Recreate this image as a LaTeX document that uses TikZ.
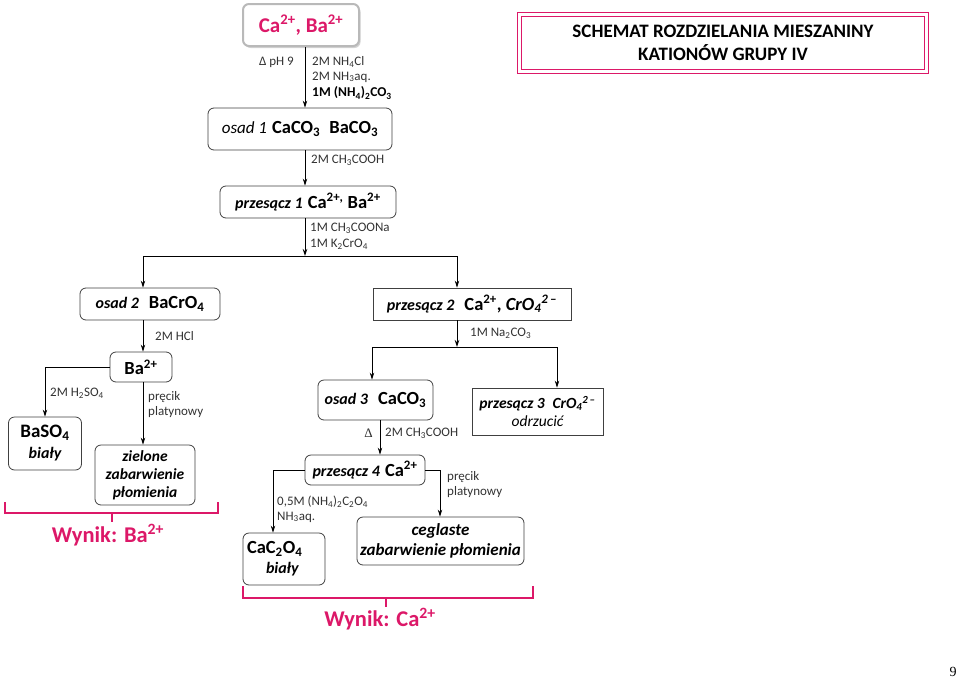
\documentclass[tikz,border=0pt]{standalone}
\usepackage{fontspec}
\setmainfont{Carlito}
\newfontfamily\serifnum{Liberation Serif}
\usetikzlibrary{arrows.meta,shadows}
\definecolor{wpink}{RGB}{220,24,104}
\definecolor{lblgray}{RGB}{50,50,50}
\tikzset{
 rbox/.style={draw=black!75, rounded corners=6pt, line width=0.8pt, fill=white, inner sep=2pt, align=center},
 sbox/.style={draw=black!75, line width=0.8pt, fill=white, inner sep=2pt, align=center},
 lbl/.style={font=\fontsize{13}{15}\selectfont, text=lblgray, anchor=west, inner sep=0pt},
 arr/.style={-{Stealth[length=7pt,width=4.5pt]}, line width=0.9pt},
 conn/.style={line width=0.9pt},
 brace/.style={draw=wpink, line width=2.4pt},
 itb/.style={font=\fontsize{15.5}{18}\selectfont\bfseries\itshape},
 wyn/.style={text=wpink, font=\fontsize{22.5}{26}\selectfont\bfseries},
}
\newcommand\chemb[1]{{\fontsize{18.5}{20}\selectfont\bfseries #1}}
\newcommand\itbx[1]{{\fontsize{16}{18}\selectfont\bfseries\itshape #1}}
\begin{document}
\begin{tikzpicture}[x=1pt,y=-1pt]
\useasboundingbox (0,0) rectangle (960,680);
% x-coordinates for vertical connectors
\coordinate (cx) at (305,0);
\coordinate (L1) at (143,256);
\coordinate (R1) at (457,256);
\coordinate (L2) at (372,347);
\coordinate (R2) at (557,347);
\coordinate (x3) at (380,0);
\coordinate (xl) at (273,0);
\coordinate (xr) at (440,0);

% title
\node[draw=wpink, double=white, double distance=2.2pt, line width=1pt, minimum width=407pt, minimum height=57pt, align=center,
      font=\fontsize{19}{23}\selectfont\bfseries] (title) at (723,43)
  {SCHEMAT ROZDZIELANIA MIESZANINY\\KATIONÓW GRUPY IV};

% top box
\node[draw=gray!55, line width=2pt, rounded corners=6pt, fill=white, drop shadow={opacity=0.35, shadow xshift=1.5pt, shadow yshift=-2pt},
      minimum width=116pt, minimum height=42pt, text=wpink, font=\fontsize{21}{24}\selectfont\bfseries] (top) at (301,25)
  {Ca\textsuperscript{2+}, Ba\textsuperscript{2+}};

\node[lbl, anchor=east] (dph) at (294,62) {Δ pH 9};
\node[lbl] (r1a) at (312,62) {2M NH\textsubscript{4}Cl};
\node[lbl] (r1b) at (312,77) {2M NH\textsubscript{3}aq.};
\node[lbl, font=\fontsize{13.5}{15}\selectfont\bfseries, text=black] (r1c) at (312,93) {1M (NH\textsubscript{4})\textsubscript{2}CO\textsubscript{3}};

% osad 1
\node[rbox, minimum width=184pt, minimum height=42pt] (osad1) at (300,129)
  {{\fontsize{17}{18}\selectfont\itshape osad 1}\enspace\chemb{CaCO\textsubscript{3}\enspace BaCO\textsubscript{3}}};
\node[lbl] (r2) at (311,160) {2M CH\textsubscript{3}COOH};

% przesacz 1
\node[rbox, minimum width=176pt, minimum height=32pt] (prz1) at (308,202)
  {\itbx{przesącz 1}\enspace\chemb{Ca\textsuperscript{2+,} Ba\textsuperscript{2+}}};
\node[lbl] (r3a) at (310,228) {1M CH\textsubscript{3}COONa};
\node[lbl] (r3b) at (310,244) {1M K\textsubscript{2}CrO\textsubscript{4}};

% osad 2 / przesacz 2
\node[rbox, minimum width=140pt, minimum height=32pt] (osad2) at (150,304)
  {\itbx{osad 2}\quad\chemb{BaCrO\textsubscript{4}}};
\node[sbox, minimum width=198pt, minimum height=32pt] (prz2) at (472,304)
  {\itbx{przesącz 2}\quad\chemb{Ca\textsuperscript{2+}, \itshape CrO\textsubscript{4}\textsuperscript{2\,–}}};
\node[lbl] (r4) at (155,336) {2M HCl};
\node[lbl] (r5) at (470,333) {1M Na\textsubscript{2}CO\textsubscript{3}};

% Ba branch
\node[rbox, minimum width=62pt, minimum height=30pt] (ba) at (141,367) {\chemb{Ba\textsuperscript{2+}}};
\node[rbox, minimum width=73pt, minimum height=53pt, font=\fontsize{19}{21}\selectfont\bfseries] (baso4) at (45,443.5)
  {BaSO\textsubscript{4}\\[0pt]{\fontsize{16}{17}\selectfont\itshape biały}};
\node[rbox, minimum width=100pt, minimum height=60pt, itb, align=center] (ziel) at (145,475)
  {zielone\\zabarwienie\\płomienia};
\node[lbl] (r6) at (50,393) {2M H\textsubscript{2}SO\textsubscript{4}};
\node[lbl] (r7a) at (148,397) {pręcik};
\node[lbl] (r7b) at (148,412) {platynowy};

% Ca branch
\node[rbox, minimum width=115pt, minimum height=40pt] (osad3) at (375.5,400)
  {\itbx{osad 3}\quad\chemb{CaCO\textsubscript{3}}};
\node[sbox, minimum width=131pt, minimum height=47pt, itb] (prz3) at (537.5,411.5)
  {przesącz 3\enspace CrO\textsubscript{4}\textsuperscript{2\,–}\\[0pt]{\mdseries odrzucić}};
\node[lbl, anchor=east, font=\serifnum\fontsize{13}{14}\selectfont] (r8a) at (373,433) {Δ};
\node[lbl] (r8b) at (385,433) {2M CH\textsubscript{3}COOH};

\node[rbox, minimum width=120pt, minimum height=30pt] (prz4) at (365,470)
  {\itbx{przesącz 4}\enspace\chemb{Ca\textsuperscript{2+}}};
\node[lbl] (r9a) at (277,502) {0,5M (NH\textsubscript{4})\textsubscript{2}C\textsubscript{2}O\textsubscript{4}};
\node[lbl] (r9b) at (277,517) {NH\textsubscript{3}aq.};
\node[lbl] (r10a) at (447,477) {pręcik};
\node[lbl] (r10b) at (447,492) {platynowy};
\node[rbox, minimum width=82pt, minimum height=52pt, text width=74pt, align=left] (cac2o4) at (284,559)
  {\chemb{CaC\textsubscript{2}O\textsubscript{4}}\\[5pt]\hspace*{19pt}\itbx{biały}};
\node[rbox, minimum width=167pt, minimum height=48pt, font=\fontsize{17}{20}\selectfont\bfseries\itshape] (cegl) at (440.5,541)
  {ceglaste\\zabarwienie płomienia};

% connectors
\draw[arr] (top.south -| cx) -- (osad1.north -| cx);
\draw[arr] (osad1.south -| cx) -- (prz1.north -| cx);
\draw[arr] (prz1.south -| cx) -- (cx |- L1);
\draw[conn] (L1) -- (R1);
\draw[arr] (L1) -- (L1 |- osad2.north);
\draw[arr] (R1) -- (R1 |- prz2.north);
\draw[arr] (osad2.south -| L1) -- (ba.north -| L1);
\draw[arr] (prz2.south -| R1) -- (R1 |- L2);
\draw[conn] (L2) -- (R2);
\draw[arr] (L2) -- (L2 |- osad3.north);
\draw[arr] (R2) -- (R2 |- prz3.north);
\draw[arr] (ba.west) -| (baso4.north);
\draw[arr] (ba.south -| L1) -- (ziel.north -| L1);
\draw[arr] (osad3.south -| x3) -- (prz4.north -| x3);
\draw[arr] (prz4.west) -| (cac2o4.north -| xl);
\draw[arr] (prz4.east) -| (cegl.north -| xr);

% braces
\draw[brace] (5,502) -- (5,513) -- (218,513) -- (218,502);
\draw[brace] (112,513) -- (112,522);
\node[wyn] (wba) at (108,535) {Wynik: Ba\textsuperscript{2+}};
\draw[brace] (243,586) -- (243,598) -- (533,598) -- (533,586);
\draw[brace] (386,598) -- (386,607);
\node[wyn] (wca) at (380,619) {Wynik: Ca\textsuperscript{2+}};

\node[font=\serifnum\fontsize{14}{15}\selectfont] (pg) at (953,672) {9};
\end{tikzpicture}
\end{document}
